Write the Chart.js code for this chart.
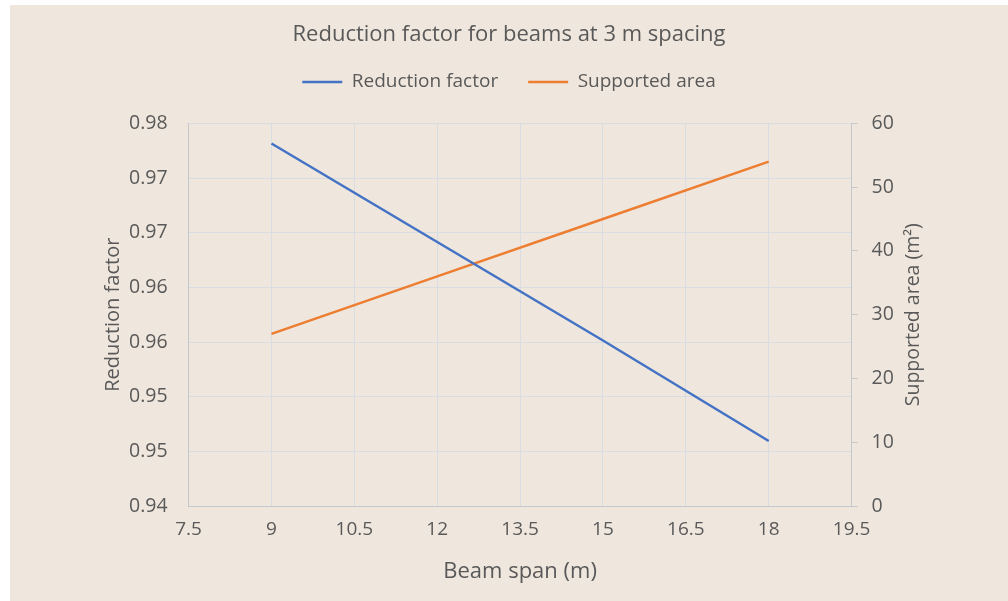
<!DOCTYPE html>
<html>
<head>
<meta charset="utf-8">
<title>Reduction factor for beams at 3 m spacing</title>
<script src="https://cdn.jsdelivr.net/npm/chart.js@4.4.1/dist/chart.umd.min.js"></script>
<style>
  html, body { margin: 0; padding: 0; background: #ffffff; }
  #wrap { position: absolute; left: 10px; top: 5px; width: 998px; height: 596px; background: #efe7dd; }
</style>
</head>
<body>
<div id="wrap"><canvas id="chart"></canvas></div>
<script>
// values
const spans = [9, 12, 15, 18];
const reductionFactor = [0.9779, 0.9676, 0.9573, 0.9468];
const supportedArea = [27, 36, 45, 54];

// axis ticks
const spanTicks = [7.5, 9, 10.5, 12, 13.5, 15, 16.5, 18, 19.5];
const factorTicks = [0.94, 0.945714, 0.951429, 0.957143, 0.962857, 0.968571, 0.974286, 0.98];
const areaTicks = [0, 10, 20, 30, 40, 50, 60];

const textGrey = '#595959';
const gridGrey = '#d8dde1';
const axisGrey = '#c3c8cd';

Chart.defaults.font.family = "'Open Sans', sans-serif";
Chart.defaults.color = textGrey;

const toPoints = (xs, ys) => xs.map((x, i) => ({ x: x, y: ys[i] }));
const fixTicks = list => scale => { scale.ticks = list.map(v => ({ value: v })); };

// right axis title reads bottom-to-top like the left one
const rightTitle = {
    id: 'rightTitle',
    afterDraw(chart) {
        const s = chart.scales.y1;
        const ctx = chart.ctx;
        ctx.save();
        ctx.translate(903, (s.top + s.bottom) / 2);
        ctx.rotate(-Math.PI / 2);
        ctx.font = "19.5px 'Open Sans', sans-serif";
        ctx.fillStyle = textGrey;
        ctx.textAlign = 'center';
        ctx.textBaseline = 'middle';
        ctx.fillText('Supported area (m²)', 0, 0);
        ctx.restore();
    }
};

new Chart(document.getElementById('chart'), {
    type: 'line',
    data: {
        datasets: [
            {
                label: 'Reduction factor',
                data: toPoints(spans, reductionFactor),
                borderColor: '#4472c4',
                backgroundColor: '#4472c4',
                borderWidth: 2.5,
                pointRadius: 0,
                tension: 0,
                yAxisID: 'y'
            },
            {
                label: 'Supported area',
                data: toPoints(spans, supportedArea),
                borderColor: '#ed7d31',
                backgroundColor: '#ed7d31',
                borderWidth: 2.5,
                pointRadius: 0,
                tension: 0,
                yAxisID: 'y1'
            }
        ]
    },
    options: {
        responsive: true,
        maintainAspectRatio: false,
        animation: false,
        layout: { padding: 0 },
        plugins: {
            title: {
                display: true,
                text: 'Reduction factor for beams at 3 m spacing',
                color: textGrey,
                font: { size: 22, weight: 'normal' },
                padding: { top: 17, bottom: -6 }
            },
            legend: {
                position: 'top',
                labels: {
                    usePointStyle: true,
                    pointStyle: 'line',
                    pointStyleWidth: 40,
                    padding: 30,
                    color: textGrey,
                    font: { size: 19 }
                }
            },
            // empty spacer between legend and plot
            subtitle: {
                display: true,
                text: '',
                weight: 500,
                font: { size: 10 },
                padding: { top: 0, bottom: 10 }
            },
            tooltip: { enabled: false }
        },
        scales: {
            x: {
                type: 'linear',
                min: 7.5,
                max: 19.5,
                afterBuildTicks: fixTicks(spanTicks),
                afterFit: scale => { scale.height = 95; },
                ticks: { padding: 12, font: { size: 19 }, maxRotation: 0 },
                grid: { color: gridGrey, drawTicks: false },
                border: { color: axisGrey },
                title: {
                    display: true,
                    text: 'Beam span (m)',
                    font: { size: 22 },
                    padding: { top: 0, bottom: 16 }
                }
            },
            y: {
                position: 'left',
                min: 0.94,
                max: 0.98,
                afterBuildTicks: fixTicks(factorTicks),
                afterFit: scale => { scale.width = 178.6; },
                ticks: { padding: 21, font: { size: 19.5 }, callback: v => v.toFixed(2) },
                grid: { color: gridGrey, drawTicks: false },
                border: { color: axisGrey },
                title: {
                    display: true,
                    text: 'Reduction factor',
                    font: { size: 20 },
                    padding: { top: 91, bottom: 0 }
                }
            },
            y1: {
                position: 'right',
                min: 0,
                max: 60,
                afterBuildTicks: fixTicks(areaTicks),
                afterFit: scale => { scale.width = 156.4; },
                ticks: { padding: 14, font: { size: 19.5 } },
                grid: { drawOnChartArea: false, color: axisGrey, tickLength: 6 },
                border: { color: axisGrey }
            }
        }
    },
    plugins: [rightTitle]
});
</script>
</body>
</html>
